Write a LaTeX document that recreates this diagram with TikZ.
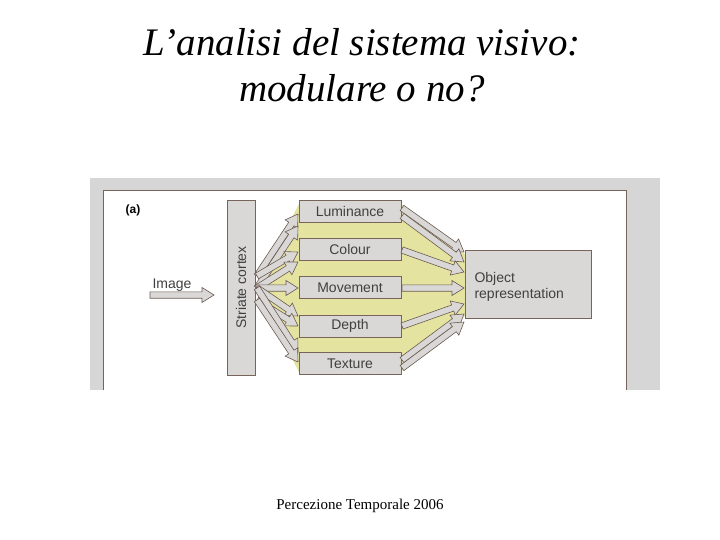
\documentclass[tikz,border=0pt]{standalone}
\usepackage{fontspec}
\setmainfont{Liberation Serif}
\newfontfamily\dsans{Liberation Sans}
\usetikzlibrary{calc}
\definecolor{panel}{RGB}{214,214,214}
\definecolor{boxg}{RGB}{218,216,214}
\definecolor{ylw}{RGB}{228,228,160}
\definecolor{brd}{RGB}{120,100,90}
\tikzset{
 modbox/.style={draw=brd,fill=boxg,line width=0.9pt,minimum width=102pt,minimum height=22pt,inner sep=0pt,font=\dsans\fontsize{14}{14}\selectfont,text=black!75},
 fatarr/.style={draw=brd!90!black,fill=boxg,line width=0.6pt,line join=miter}
}
\newcommand{\fatarrow}[2]{%
 \coordinate (hh) at ($(#2)!12pt!(#1)$);
 \path[fatarr] ($(#1)!3.2pt!90:(#2)$) -- ($(hh)!3.2pt!-90:(#1)$) -- ($(hh)!7.5pt!-90:(#1)$) -- (#2) -- ($(hh)!7.5pt!90:(#1)$) -- ($(hh)!3.2pt!90:(#1)$) -- ($(#1)!3.2pt!-90:(#2)$) -- cycle;}
\begin{document}
\begin{tikzpicture}[x=1pt,y=-1pt]
\useasboundingbox (0,0) rectangle (720,540);
\fill[white] (0,0) rectangle (720,540);
\node[font=\itshape\fontsize{39}{39}\selectfont] (t1) at (362,42) {L’analisi del sistema visivo:};
\node[font=\itshape\fontsize{39}{39}\selectfont] (t2) at (362,88) {modulare o no?};
\node[font=\fontsize{15}{15}\selectfont] (ft) at (360,506) {Percezione Temporale 2006};
% panel
\fill[panel] (90,178) rectangle (660,390);
\fill[white] (103,190) rectangle (626,390);
\draw[brd,line width=0.8pt] (103,390) -- (103,190) -- (626,190) -- (626,390);
\node[font=\dsans\bfseries\fontsize{12}{12}\selectfont] (lab) at (133,210) {(a)};
% yellow
\fill[ylw] (255,288) -- (299,204) -- (401,204) -- (466,255) -- (466,315) -- (401,372) -- (299,372) -- cycle;
% striate
\node[draw=brd,fill=boxg,line width=0.9pt,minimum width=28pt,minimum height=175pt,inner sep=0pt] (sc) at (241,287.5) {};
\node[rotate=90,font=\dsans\fontsize{14}{14}\selectfont,text=black!75] at (sc) {Striate cortex};
% modules
\node[modbox] (lum) at (350,211) {Luminance};
\node[modbox] (col) at (350,249) {Colour};
\node[modbox] (mov) at (350,287.5) {Movement};
\node[modbox] (dep) at (350,326) {Depth};
\node[modbox] (tex) at (350,363.5) {Texture};
\node[draw=brd,fill=boxg,line width=0.9pt,minimum width=126pt,minimum height=68pt,inner sep=0pt] (obj) at (528,284) {};
\node[anchor=west,align=left,font=\dsans\fontsize{14}{16}\selectfont,text=black!75] (objt) at (471,287) {Object\\representation};
\node[font=\dsans\fontsize{14}{14}\selectfont,text=black!75] (img) at (172,285) {Image};
% arrows
\coordinate (ia) at (150,295); \coordinate (ib) at (214,295);
\fatarrow{ia}{ib}
\coordinate (s0) at (257,288);
\coordinate (s1) at (257,276);
\coordinate (s2) at (257,300);
\coordinate (l1) at (298,214); \fatarrow{s1}{l1}
\coordinate (l1b) at (298,226); \fatarrow{s0}{l1b}
\coordinate (c1) at (298,252); \fatarrow{s1}{c1}
\coordinate (c1b) at (298,262); \fatarrow{s0}{c1b}
\coordinate (m1) at (298,288); \fatarrow{s0}{m1}
\coordinate (d1) at (298,316); \fatarrow{s0}{d1}
\coordinate (d1b) at (298,326); \fatarrow{s2}{d1b}
\coordinate (x1) at (298,352); \fatarrow{s0}{x1}
\coordinate (x1b) at (298,362); \fatarrow{s2}{x1b}
% to object
\coordinate (r1) at (402,208); \coordinate (o1) at (464,252); \fatarrow{r1}{o1}
\coordinate (r1b) at (402,216); \coordinate (o1b) at (464,262); \fatarrow{r1b}{o1b}
\coordinate (r2) at (402,250); \coordinate (o2) at (464,272); \fatarrow{r2}{o2}
\coordinate (r3) at (402,288); \coordinate (o3) at (464,288); \fatarrow{r3}{o3}
\coordinate (r4) at (402,326); \coordinate (o4) at (464,304); \fatarrow{r4}{o4}
\coordinate (r5) at (402,360); \coordinate (o5) at (464,314); \fatarrow{r5}{o5}
\coordinate (r5b) at (402,368); \coordinate (o5b) at (464,322); \fatarrow{r5b}{o5b}
\end{tikzpicture}
\end{document}
